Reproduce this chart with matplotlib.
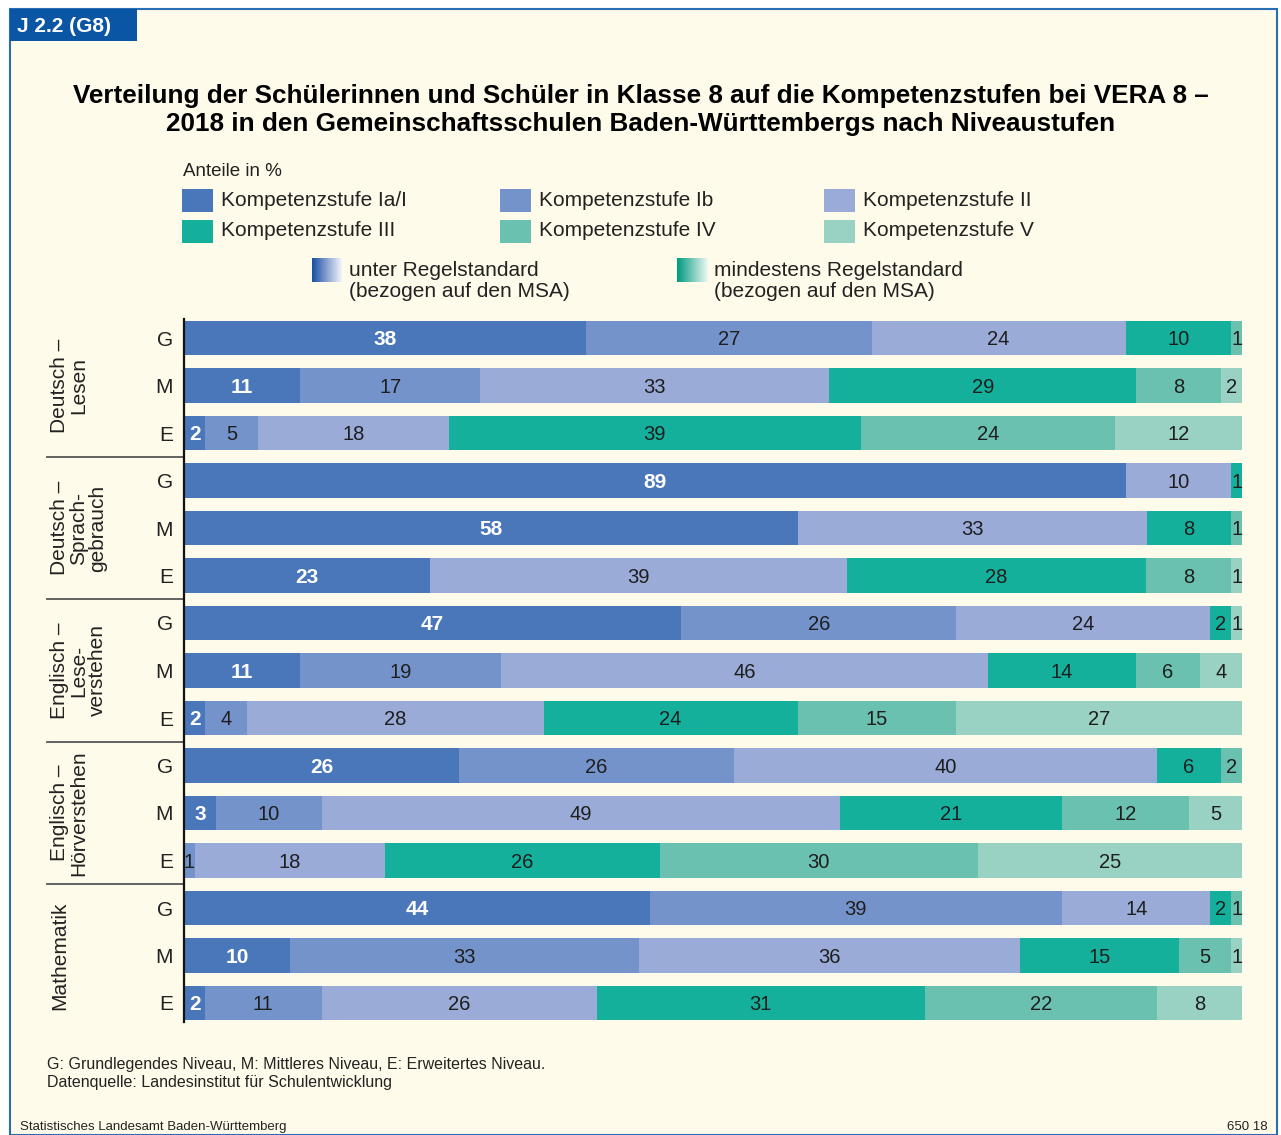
import numpy as np
import matplotlib.pyplot as plt
import matplotlib.transforms as mtransforms
from matplotlib.patches import Rectangle
from matplotlib.colors import LinearSegmentedColormap

plt.rcParams['font.family'] = ['Liberation Sans', 'DejaVu Sans']

# Data: rows top to bottom, shares in % per competence level
subjects = ["Deutsch –\nLesen", "Deutsch –\nSprach-\ngebrauch", "Englisch –\nLese-\nverstehen",
            "Englisch –\nHörverstehen", "Mathematik"]
levels_tracks = ["G", "M", "E"]
stufe_ia = [38, 11, 2, 89, 58, 23, 47, 11, 2, 26, 3, 0, 44, 10, 2]
stufe_ib = [27, 17, 5, 0, 0, 0, 26, 19, 4, 26, 10, 1, 39, 33, 11]
stufe_ii = [24, 33, 18, 10, 33, 39, 24, 46, 28, 40, 49, 18, 14, 36, 26]
stufe_iii = [10, 29, 39, 1, 8, 28, 2, 14, 24, 6, 21, 26, 2, 15, 31]
stufe_iv = [1, 8, 24, 0, 1, 8, 0, 6, 15, 2, 12, 30, 1, 5, 22]
stufe_v = [0, 2, 12, 0, 0, 1, 1, 4, 27, 0, 5, 25, 0, 1, 8]
legend_labels = ["Kompetenzstufe Ia/I", "Kompetenzstufe Ib", "Kompetenzstufe II",
                 "Kompetenzstufe III", "Kompetenzstufe IV", "Kompetenzstufe V"]

colors = ["#4a77ba", "#7593cb", "#9aabd8", "#14b09b", "#6bc1b0", "#99d1c3"]
bg = "#fffbea"
W, H = 1281, 1135


def fx(px):
    return px / W


def fy(py):
    return 1 - py / H


fig = plt.figure(figsize=(W / 100, H / 100), dpi=100, facecolor="white")

# frame and header
fig.patches.append(Rectangle((fx(10), 0), fx(1267), fy(9), transform=fig.transFigure,
                             facecolor=bg, edgecolor="#2a6db5", linewidth=1.5, zorder=-10))
fig.patches.append(Rectangle((fx(10), fy(41)), fx(127), 32 / H, transform=fig.transFigure,
                             facecolor="#0a55a4", edgecolor="none", zorder=-5))
fig.text(fx(17), fy(26), "J 2.2 (G8)", color="white", fontsize=15, fontweight="bold",
         va="center", ha="left")

fig.text(fx(641), fy(96), "Verteilung der Schülerinnen und Schüler in Klasse 8 auf die Kompetenzstufen bei VERA 8 –",
         ha="center", va="center", fontsize=18.8, fontweight="bold")
fig.text(fx(641), fy(124), "2018 in den Gemeinschaftsschulen Baden-Württembergs nach Niveaustufen",
         ha="center", va="center", fontsize=18.8, fontweight="bold")

# legend
fig.text(fx(183), fy(172), "Anteile in %", ha="left", va="center", fontsize=13.5, color="#222222")
col_x = [182, 500, 824]
row_y = [200, 231]
for i, lab in enumerate(legend_labels):
    x = col_x[i % 3]
    y = row_y[i // 3]
    fig.patches.append(Rectangle((fx(x), fy(y + 11.5)), 31 / W, 23 / H, transform=fig.transFigure,
                                 facecolor=colors[i], edgecolor="none", zorder=-5))
    fig.text(fx(x + 39), fy(y), lab, ha="left", va="center", fontsize=15, color="#222222")

grad = np.linspace(0, 1, 64).reshape(1, -1)
for gx, c0, c1, l1 in [(312, "#1a4fa5", "#f4f4fb", "unter Regelstandard"),
                       (677, "#009a80", "#eef8f2", "mindestens Regelstandard")]:
    gax = fig.add_axes([fx(gx), fy(282), 30 / W, 24 / H])
    gax.imshow(grad, aspect="auto", cmap=LinearSegmentedColormap.from_list("g", [c0, c1]))
    gax.axis("off")
    fig.text(fx(gx + 37), fy(270), l1, ha="left", va="center", fontsize=15, color="#222222")
    fig.text(fx(gx + 37), fy(291), "(bezogen auf den MSA)", ha="left", va="center",
             fontsize=15, color="#222222")

# bars (rounded shares, each row stretched to the full width as in the original)
ax = fig.add_axes([fx(184), fy(1022), (1242 - 184) / W, 703 / H])
ax.set_facecolor("none")
series = [stufe_ia, stufe_ib, stufe_ii, stufe_iii, stufe_iv, stufe_v]
n = len(stufe_ia)
y = np.arange(n)
totals = np.array(series, dtype=float).sum(axis=0)
left = np.zeros(n)
for k, vals in enumerate(series):
    vals = np.array(vals, dtype=float)
    widths = vals * 100 / totals
    ax.barh(y, widths, left=left, height=0.72, color=colors[k], edgecolor="none")
    for j in range(n):
        if vals[j] > 0:
            if k == 0:
                ax.text(left[j] + widths[j] / 2, y[j] + 0.04, f"{int(vals[j])}", ha="center",
                        va="center", fontsize=15, fontweight="bold", color="white")
            else:
                ax.text(left[j] + widths[j] / 2, y[j] + 0.04, f"{int(vals[j])}", ha="center",
                        va="center", fontsize=14.5, color="#1e1e1e")
    left += widths

ax.set_xlim(0, 100)
ax.set_ylim(14.4, -0.4)
ax.set_xticks([])
ax.set_yticks(y)
ax.set_yticklabels(levels_tracks * 5, fontsize=15, color="#222222")
ax.tick_params(axis="y", length=0, pad=8)
for s in ["top", "right", "bottom"]:
    ax.spines[s].set_visible(False)
ax.spines["left"].set_linewidth(1.6)
ax.spines["left"].set_color("#111111")

trans = mtransforms.blended_transform_factory(fig.transFigure, ax.transData)
for b in [2.5, 5.5, 8.5, 11.5]:
    ax.plot([fx(47), fx(184)], [b, b], transform=trans, color="#555555", linewidth=1.3, clip_on=False)
for g, name in enumerate(subjects):
    ax.text(fx(50), 3 * g + 1, name, transform=trans, rotation=90, ha="left", va="center",
            multialignment="center", fontsize=15, color="#222222", linespacing=1.0)

# footnotes
fig.text(fx(47), fy(1064), "G: Grundlegendes Niveau, M: Mittleres Niveau, E: Erweitertes Niveau.",
         ha="left", va="center", fontsize=11.5, color="#222222")
fig.text(fx(47), fy(1083), "Datenquelle: Landesinstitut für Schulentwicklung",
         ha="left", va="center", fontsize=11.5, color="#222222")
fig.text(fx(20), fy(1127), "Statistisches Landesamt Baden-Württemberg",
         ha="left", va="center", fontsize=9.5, color="#222222")
fig.text(fx(1268), fy(1127), "650 18", ha="right", va="center", fontsize=9.5, color="#222222")

fig.savefig("out.png", dpi=100, facecolor="white")
